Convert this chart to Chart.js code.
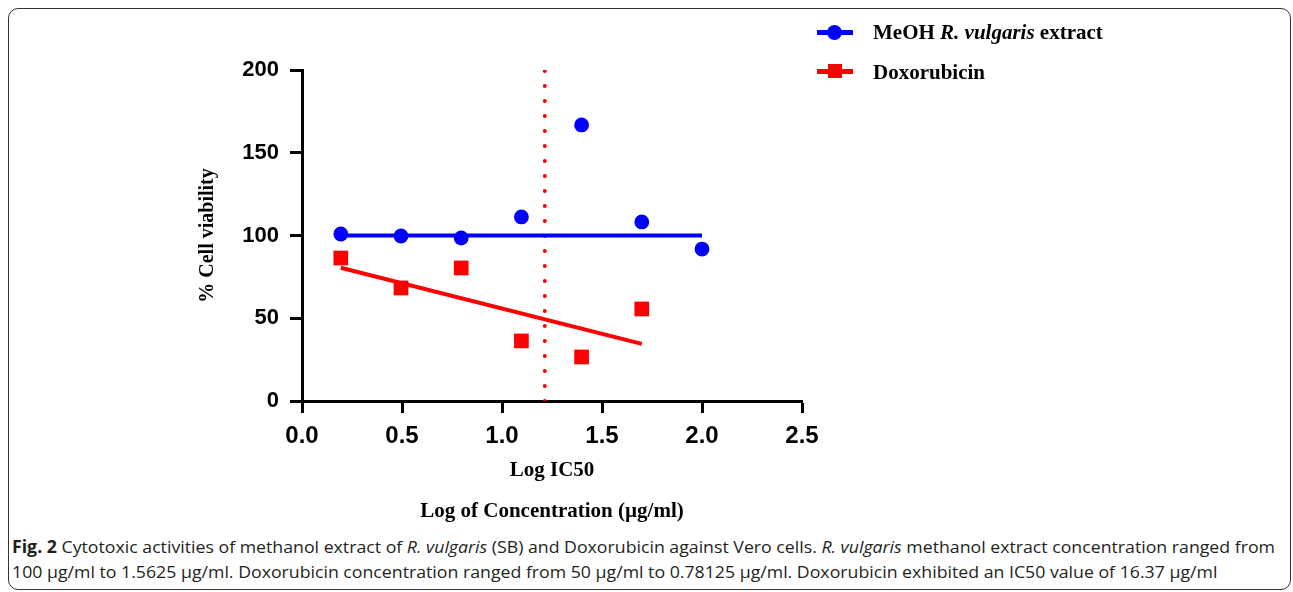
<!DOCTYPE html>
<html>
<head>
<meta charset="utf-8">
<script src="https://cdn.jsdelivr.net/npm/chart.js@4.4.1/dist/chart.umd.min.js"></script>
<style>
  html, body { margin: 0; padding: 0; background: #fff; }
  body { width: 1293px; height: 592px; position: relative; overflow: hidden; }
  #frame { position: absolute; left: 8px; top: 8px; width: 1281px; height: 580px; border: 1.5px solid #333; border-radius: 10px; }
  #wrap { position: absolute; left: 0; top: 0; width: 1293px; height: 532px; }
  .leg { position: absolute; font-family: "Liberation Serif", "Times New Roman", serif; font-weight: bold; font-size: 21px; color: #000; white-space: nowrap; line-height: 24px; }
  .legline { position: absolute; height: 5px; }
  .cap { position: absolute; left: 12px; font-family: "Open Sans", sans-serif; font-size: 17px; color: #231f20; white-space: nowrap; transform-origin: 0 50%; line-height: 20px; }
</style>
</head>
<body>
<div id="frame"></div>
<div id="wrap"><canvas id="c"></canvas></div>

<div class="legline" style="left:817px; top:30px; width:36px; background:#0000ff;"></div>
<div style="position:absolute; left:827px; top:25px; width:15px; height:15px; border-radius:50%; background:#0000ff;"></div>
<div class="leg" style="left:873px; top:20px;">MeOH <i>R. vulgaris</i> extract</div>

<div class="legline" style="left:817px; top:69px; width:36px; background:#ff0000;"></div>
<div style="position:absolute; left:828px; top:64px; width:14px; height:14px; background:#ff0000;"></div>
<div class="leg" style="left:873px; top:60px;">Doxorubicin</div>

<div class="cap" id="cap1" style="top:537px;"><b>Fig. 2</b> Cytotoxic activities of methanol extract of <i>R. vulgaris</i> (SB) and Doxorubicin against Vero cells. <i>R. vulgaris</i> methanol extract concentration ranged from</div>
<div class="cap" id="cap2" style="top:562px;">100 μg/ml to 1.5625 μg/ml. Doxorubicin concentration ranged from 50 μg/ml to 0.78125 μg/ml. Doxorubicin exhibited an IC50 value of 16.37 μg/ml</div>

<script>
// Log10 of concentrations (µg/ml)
const logConcExtract = [0.194, 0.495, 0.796, 1.097, 1.398, 1.699, 2.0];
const viabilityExtract = [100.9, 99.7, 98.5, 111.2, 166.8, 108.2, 91.8];
const logConcDox = [0.194, 0.495, 0.796, 1.097, 1.398, 1.699];
const viabilityDox = [86.4, 68.3, 80.4, 36.3, 26.6, 55.6];

// Fitted lines (end points)
const fitExtractX = [0.194, 2.0];
const fitExtractY = [100, 100];
const fitDoxX = [0.194, 1.699];
const fitDoxY = [80.5, 34.5];

// IC50 marker (log 16.37)
const ic50X = [1.214, 1.214];
const ic50Y = [0, 200];

const xTicks = [0.0, 0.5, 1.0, 1.5, 2.0, 2.5];
const yTicks = [0, 50, 100, 150, 200];

const pts = (xs, ys) => xs.map((x, i) => ({ x: x, y: ys[i] }));

// fit caption width
(function () {
  const c1 = document.getElementById('cap1');
  const c2 = document.getElementById('cap2');
  const w = c1.getBoundingClientRect().width;
  const k = 1263 / w;
  c1.style.transform = 'scaleX(' + k + ')';
  c2.style.transform = 'scaleX(' + k + ')';
})();

const BLUE = '#0000ff', RED = '#ff0000';

new Chart(document.getElementById('c'), {
  type: 'scatter',
  data: {
    datasets: [
      { label: 'MeOH R. vulgaris extract', data: pts(logConcExtract, viabilityExtract), pointStyle: 'circle', pointRadius: 7.4, backgroundColor: BLUE, borderWidth: 0, order: 0 },
      { label: 'Doxorubicin', data: pts(logConcDox, viabilityDox), pointStyle: 'rect', pointRadius: 10.4, backgroundColor: RED, borderWidth: 0, order: 0 },
      { type: 'line', label: 'fit extract', data: pts(fitExtractX, fitExtractY), borderColor: BLUE, borderWidth: 4, pointRadius: 0, fill: false, order: 1 },
      { type: 'line', label: 'fit dox', data: pts(fitDoxX, fitDoxY), borderColor: RED, borderWidth: 4, pointRadius: 0, fill: false, order: 1 },
      { type: 'line', label: 'IC50', data: pts(ic50X, ic50Y), borderColor: RED, borderWidth: 4, borderDash: [0, 15], borderCapStyle: 'round', pointRadius: 0, fill: false, order: 2 }
    ]
  },
  options: {
    responsive: true,
    maintainAspectRatio: false,
    animation: false,
    devicePixelRatio: 1,
    layout: { padding: { left: 0, right: 491, top: 70, bottom: 0 } },
    plugins: { legend: { display: false }, tooltip: { enabled: false } },
    scales: {
      x: {
        type: 'linear', min: 0, max: 2.5,
        afterBuildTicks: s => { s.ticks = xTicks.map(v => ({ value: v })); },
        afterFit: s => { s.height = 131; },
        ticks: { color: '#000', padding: 9, font: { family: 'Liberation Sans, Arial, sans-serif', size: 24, weight: 'bold' }, callback: v => Number(v).toFixed(1), maxRotation: 0 },
        grid: { display: true, drawOnChartArea: false, drawTicks: true, tickLength: 12, tickWidth: 3, tickColor: '#000' },
        border: { display: true, color: '#000', width: 3 },
        title: { display: true, text: ['Log IC50', 'Log of Concentration (µg/ml)'], color: '#000', padding: { top: 0, bottom: 0 }, font: { family: 'Liberation Serif, Times New Roman, serif', size: 21, weight: 'bold', lineHeight: 1.952 } }
      },
      y: {
        type: 'linear', min: 0, max: 200,
        afterBuildTicks: s => { s.ticks = yTicks.map(v => ({ value: v })); },
        afterFit: s => { s.width = 302; },
        ticks: { color: '#000', padding: 11, font: { family: 'Liberation Sans, Arial, sans-serif', size: 22, weight: 'bold' } },
        grid: { display: true, drawOnChartArea: false, drawTicks: true, tickLength: 12, tickWidth: 3, tickColor: '#000' },
        border: { display: true, color: '#000', width: 3 },
        title: { display: true, text: '% Cell viability', color: '#000', padding: { top: 196, bottom: 0 }, font: { family: 'Liberation Serif, Times New Roman, serif', size: 20, weight: 'bold' } }
      }
    }
  }
});
</script>
</body>
</html>
